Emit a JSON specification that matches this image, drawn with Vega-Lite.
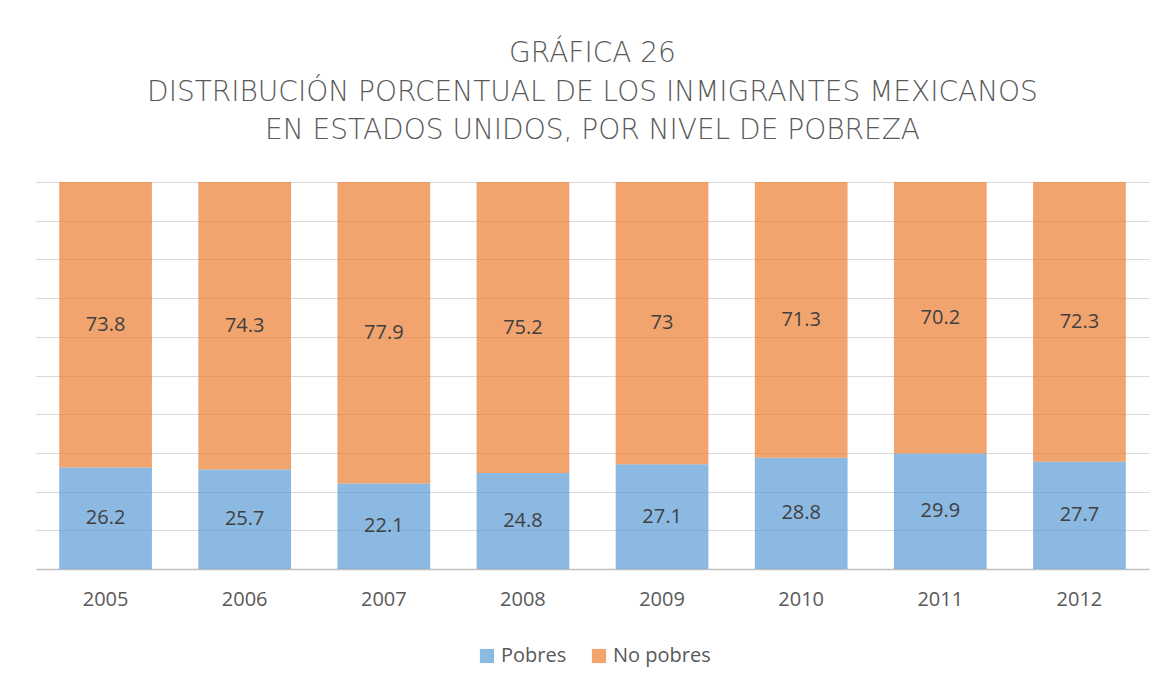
{
  "$schema": "https://vega.github.io/schema/vega-lite/v6.json",
  "width": 1113,
  "height": 387,
  "autosize": {"type": "none"},
  "padding": {"left": 36, "top": 182, "right": 18, "bottom": 116},
  "background": "white",
  "title": {
    "text": ["GRÁFICA 26", "DISTRIBUCIÓN PORCENTUAL DE LOS INMIGRANTES MEXICANOS", "EN ESTADOS UNIDOS, POR NIVEL DE POBREZA"],
    "anchor": "middle",
    "font": "DejaVu Sans",
    "fontWeight": 200,
    "fontSize": 28,
    "color": "#595959",
    "lineHeight": 38.5,
    "offset": 37
  },
  "data": {
    "values": [
      {"anio": "2005", "nivel": "Pobres", "orden": 1, "valor": 26.2},
      {"anio": "2005", "nivel": "No pobres", "orden": 2, "valor": 73.8},
      {"anio": "2006", "nivel": "Pobres", "orden": 1, "valor": 25.7},
      {"anio": "2006", "nivel": "No pobres", "orden": 2, "valor": 74.3},
      {"anio": "2007", "nivel": "Pobres", "orden": 1, "valor": 22.1},
      {"anio": "2007", "nivel": "No pobres", "orden": 2, "valor": 77.9},
      {"anio": "2008", "nivel": "Pobres", "orden": 1, "valor": 24.8},
      {"anio": "2008", "nivel": "No pobres", "orden": 2, "valor": 75.2},
      {"anio": "2009", "nivel": "Pobres", "orden": 1, "valor": 27.1},
      {"anio": "2009", "nivel": "No pobres", "orden": 2, "valor": 73},
      {"anio": "2010", "nivel": "Pobres", "orden": 1, "valor": 28.8},
      {"anio": "2010", "nivel": "No pobres", "orden": 2, "valor": 71.3},
      {"anio": "2011", "nivel": "Pobres", "orden": 1, "valor": 29.9},
      {"anio": "2011", "nivel": "No pobres", "orden": 2, "valor": 70.2},
      {"anio": "2012", "nivel": "Pobres", "orden": 1, "valor": 27.7},
      {"anio": "2012", "nivel": "No pobres", "orden": 2, "valor": 72.3}
    ]
  },
  "encoding": {
    "x": {
      "field": "anio",
      "type": "nominal",
      "scale": {"paddingInner": 0.3333, "paddingOuter": 0.1667},
      "axis": {
        "title": null,
        "labelAngle": 0,
        "labelFont": "Open Sans",
        "labelFontSize": 20,
        "labelColor": "#595959",
        "labelPadding": 20,
        "ticks": false,
        "domainColor": "#c0c0c0",
        "domainWidth": 1.5,
        "grid": false
      }
    },
    "order": {"field": "orden", "type": "quantitative"}
  },
  "layer": [
    {
      "mark": {"type": "bar", "opacity": 0.7},
      "encoding": {
        "y": {
          "field": "valor",
          "type": "quantitative",
          "stack": "normalize",
          "scale": {"domain": [0, 1], "nice": false},
          "axis": {
            "title": null,
            "labels": false,
            "ticks": false,
            "domain": false,
            "values": [0, 0.1, 0.2, 0.3, 0.4, 0.5, 0.6, 0.7, 0.8, 0.9, 1],
            "gridColor": "#d9d9d9",
            "gridWidth": 1
          }
        },
        "color": {
          "field": "nivel",
          "type": "nominal",
          "scale": {"domain": ["Pobres", "No pobres"], "range": ["#5B9BD5", "#ED7D31"]},
          "legend": {
            "title": null,
            "orient": "none",
            "legendX": 441,
            "legendY": 464,
            "direction": "horizontal",
            "symbolType": "square",
            "symbolSize": 200,
            "symbolOpacity": 0.7,
            "symbolStrokeWidth": 0,
            "labelFont": "Open Sans",
            "labelFontSize": 20,
            "labelColor": "#595959",
            "columnPadding": 22
          }
        }
      }
    },
    {
      "mark": {"type": "text", "font": "Open Sans", "fontSize": 20, "color": "#404040", "baseline": "middle"},
      "encoding": {
        "y": {
          "field": "valor",
          "type": "quantitative",
          "stack": "normalize",
          "bandPosition": 0.5,
          "scale": {"domain": [0, 1], "nice": false},
          "axis": {
            "title": null,
            "labels": false,
            "ticks": false,
            "domain": false,
            "values": [0, 0.1, 0.2, 0.3, 0.4, 0.5, 0.6, 0.7, 0.8, 0.9, 1],
            "gridColor": "#d9d9d9",
            "gridWidth": 1
          }
        },
        "text": {"field": "valor", "type": "quantitative"}
      }
    }
  ],
  "config": {"view": {"stroke": null}}
}
